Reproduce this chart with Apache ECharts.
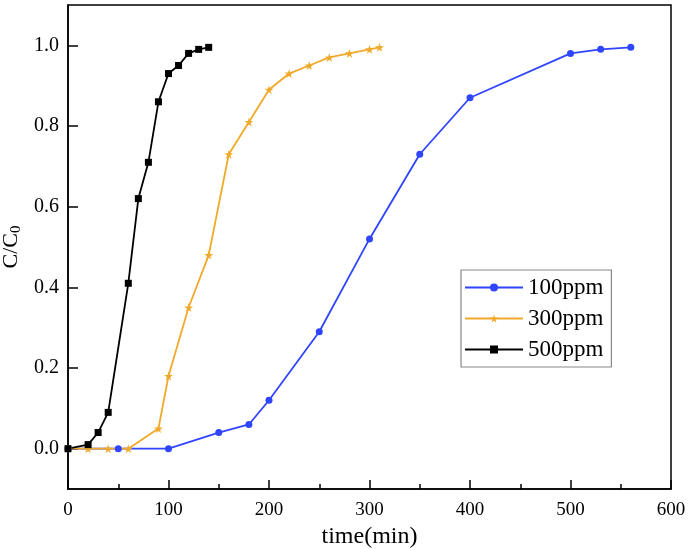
<!DOCTYPE html>
<html>
<head>
<meta charset="utf-8">
<script src="https://cdn.jsdelivr.net/npm/echarts@6/dist/echarts.min.js"></script>
<style>
  html, body { margin: 0; padding: 0; background: #fff; }
  #chart { width: 689px; height: 549px; }
</style>
</head>
<body>
<div id="chart"></div>
<script>
'use strict';

// data: [time(min), C/C0]
const series100 = [[0, 0], [50, 0], [100, 0], [150, 0.04], [180, 0.06], [200, 0.12], [250, 0.29],
  [300, 0.52], [350, 0.73], [400, 0.87], [500, 0.98], [530, 0.99], [560, 0.995]];
const series300 = [[0, 0], [20, 0], [40, 0], [60, 0], [90, 0.05], [100, 0.18], [120, 0.35], [140, 0.48],
  [160, 0.73], [180, 0.81], [200, 0.89], [220, 0.93], [240, 0.95], [260, 0.97], [280, 0.98],
  [300, 0.99], [310, 0.995]];
const series500 = [[0, 0], [20, 0.01], [30, 0.04], [40, 0.09], [60, 0.41], [70, 0.62], [80, 0.71],
  [90, 0.86], [100, 0.93], [110, 0.95], [120, 0.98], [130, 0.99], [140, 0.995]];
const names = ['100ppm', '300ppm', '500ppm'];
const yTicks = [0, 0.2, 0.4, 0.6, 0.8, 1.0];

const STAR = 'path://M50,0 L61,35 L98,35 L68,57 L79,91 L50,70 L21,91 L32,57 L2,35 L39,35 Z';
const FONT = '"Liberation Serif", "Times New Roman", serif';

const chart = echarts.init(document.getElementById('chart'), null, { renderer: 'canvas' });

function line(name, data, color, symbol, size) {
  return {
    name, type: 'line', data,
    symbol, symbolSize: size,
    lineStyle: { color, width: 1.8 },
    itemStyle: { color, borderWidth: 0 },
    emphasis: { disabled: true },
    animation: false
  };
}

chart.setOption({
  backgroundColor: '#fff',
  grid: {
    left: 68, right: 18, top: 5, bottom: 60, outerBoundsMode: 'none', containLabel: false,
    show: true, borderColor: '#000', borderWidth: 1.5
  },
  legend: {
    left: 461, top: 270, orient: 'vertical',
    data: names,
    itemWidth: 58, itemHeight: 10, itemGap: 8,
    borderColor: '#888', borderWidth: 1.2, padding: [6, 8, 6, 3],
    textStyle: { fontFamily: FONT, fontSize: 23, color: '#000' }
  },
  xAxis: {
    type: 'value', min: 0, max: 600, interval: 100,
    name: 'time(min)', nameLocation: 'middle', nameGap: 29,
    nameTextStyle: { fontFamily: FONT, fontSize: 24, color: '#000' },
    axisLine: { onZero: false, lineStyle: { color: '#000', width: 1.5 } },
    axisTick: { inside: true, length: 9, lineStyle: { color: '#000', width: 1.5 } },
    minorTick: { show: true, splitNumber: 2, length: 5, lineStyle: { color: '#000', width: 1.5 } },
    axisLabel: { fontFamily: FONT, fontSize: 19, color: '#000', margin: 12 },
    splitLine: { show: false }
  },
  yAxis: {
    type: 'value', min: -0.1, max: 1.1,
    name: 'C/C{s|0}', nameLocation: 'middle', nameGap: 41, nameRotate: 90,
    nameTextStyle: {
      fontFamily: FONT, fontSize: 22, color: '#000',
      rich: { s: { fontFamily: FONT, fontSize: 15, color: '#000', verticalAlign: 'bottom', padding: [9, 0, 0, 0] } }
    },
    axisLine: { onZero: false, lineStyle: { color: '#000', width: 1.5 } },
    axisTick: { inside: true, length: 10, customValues: yTicks, lineStyle: { color: '#000', width: 1.5 } },
    axisLabel: {
      fontFamily: FONT, fontSize: 20, color: '#000', margin: 9,
      customValues: yTicks, formatter: (v) => v.toFixed(1)
    },
    splitLine: { show: false }
  },
  series: [
    line(names[0], series100, '#2f45ff', 'circle', 7),
    line(names[1], series300, '#f0a92a', STAR, 9),
    line(names[2], series500, '#000000', 'rect', 7)
  ]
});
</script>
</body>
</html>
